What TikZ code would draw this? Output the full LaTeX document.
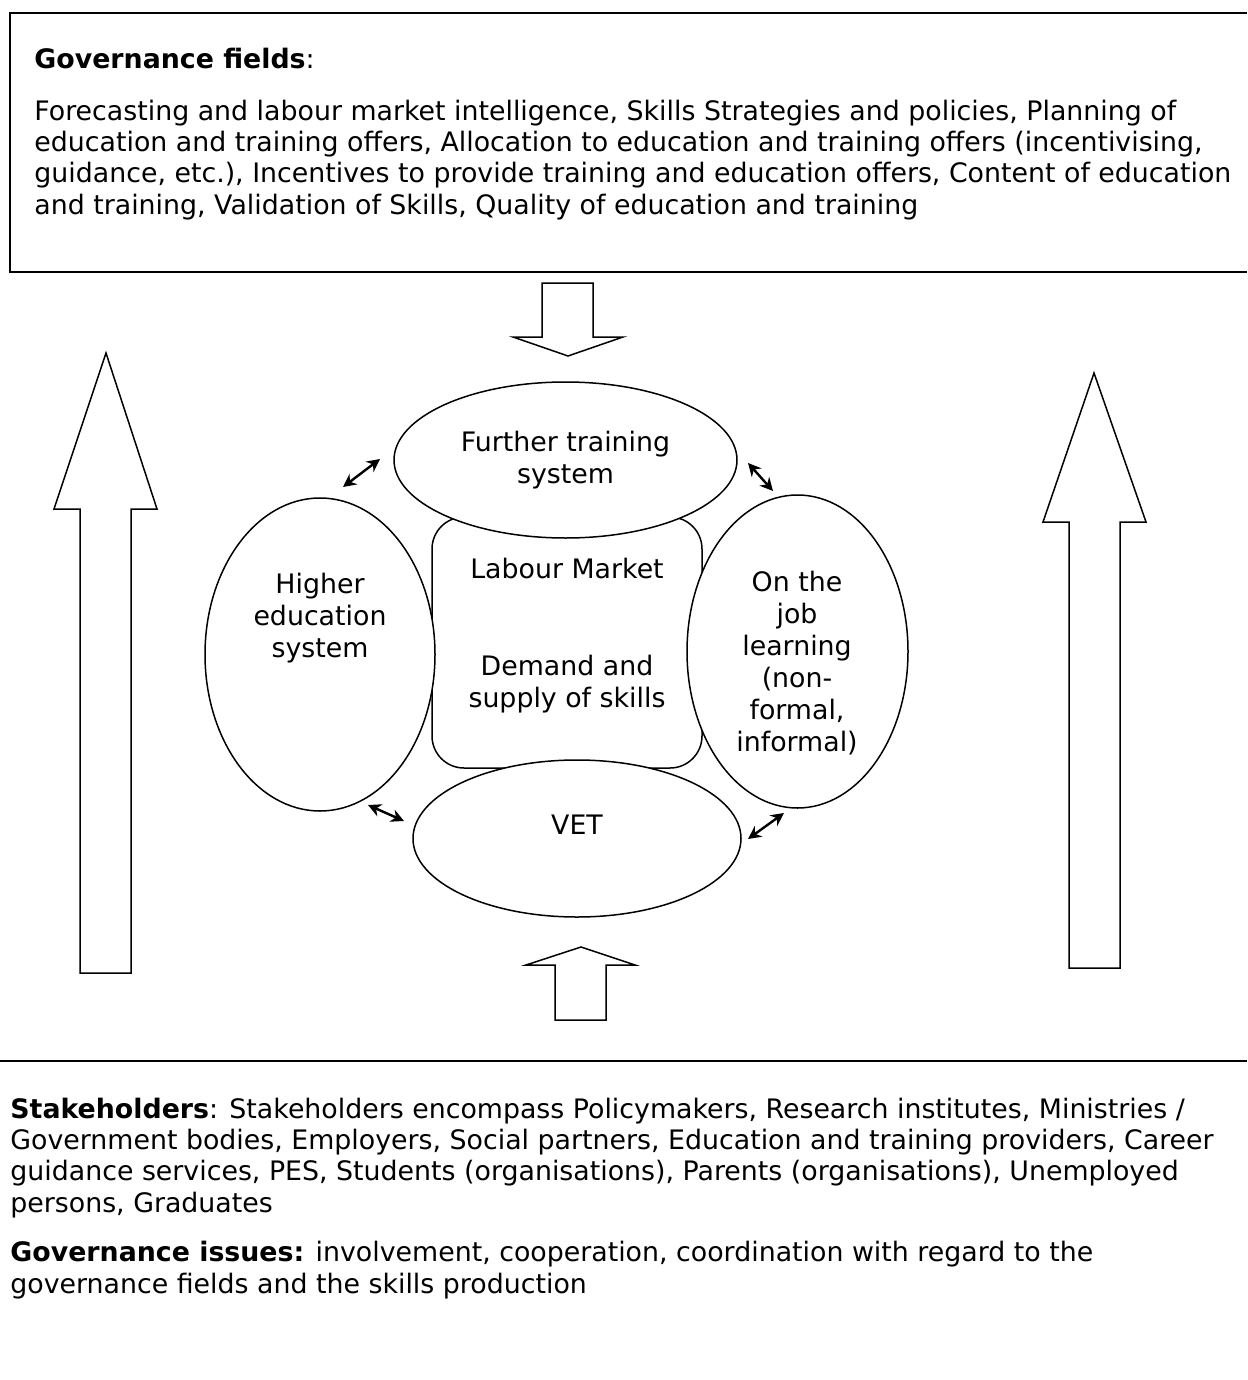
\documentclass[tikz,border=0pt]{standalone}
\usepackage{fontspec}
\setmainfont{DejaVu Sans}
\usetikzlibrary{shapes.geometric, arrows.meta}

\begin{document}
\begin{tikzpicture}[x=0.5pt, y=-0.5pt,
  ell/.style={ellipse, draw, line width=0.75pt, fill=white, inner sep=0pt,
              align=center, font=\fontsize{13.4}{16}\selectfont},
  txt/.style={align=center, inner sep=0pt, font=\fontsize{13.4}{16}\selectfont},
  para/.style={align=left, inner sep=0pt, anchor=base west,
               font=\fontsize{13.4}{15.6}\selectfont},
  blk/.style={draw, line width=0.75pt, fill=white, line join=miter},
  dbl/.style={{Stealth[length=6.5pt,width=6.5pt]}-{Stealth[length=6.5pt,width=6.5pt]},
              line width=1.2pt}
]
\useasboundingbox (0,0) rectangle (1247,1380);

%% Governance fields box (base = last line)
\draw[line width=1pt] (1247,13) -- (10,13) -- (10,272) -- (1247,272);
\node[para] (gtitle) at (34,69) {\textbf{Governance fields}:};
\node[para] (gtext)  at (34,214) {Forecasting and labour market intelligence, Skills Strategies and policies, Planning of\\
education and training offers, Allocation to education and training offers (incentivising,\\
guidance, etc.), Incentives to provide training and education offers, Content of education\\
and training, Validation of Skills, Quality of education and training};

%% Block arrows
\draw[blk] (542,283) -- (593,283) -- (593,337) -- (623,337) -- (568,356) -- (513,337) -- (542,337) -- cycle;
\draw[blk] (555,1020) -- (606,1020) -- (606,965) -- (635,965) -- (581,947) -- (526,965) -- (555,965) -- cycle;
\draw[blk] (80,973) -- (131,973) -- (131,509) -- (157,509) -- (106,353) -- (54,509) -- (80,509) -- cycle;
\draw[blk] (1069,968) -- (1120,968) -- (1120,522) -- (1146,522) -- (1094,373) -- (1043,522) -- (1069,522) -- cycle;

%% Labour market
\node[draw, rounded corners=16pt, line width=0.75pt, minimum width=135pt,
      minimum height=125.5pt] (market) at (567,642.5) {};
\node[txt] (lmtxt) at (567,569) {Labour Market};
\node[txt] (dstxt) at (567,684) {Demand and\\supply of skills};

%% Systems
\node[ell, minimum width=171.5pt, minimum height=78pt] (further) at (565.5,460) {Further training\\system};
\node[ell, minimum width=115pt, minimum height=156.5pt] (higher) at (320,654.5) {};
\node[ell, minimum width=110.5pt, minimum height=156.5pt] (onjob) at (797.5,651.5) {};
\node[ell, minimum width=164pt, minimum height=78.5pt] (vet) at (577,838.5) {};
\node[txt] (htxt) at (320,618) {Higher\\education\\system};
\node[txt] (otxt) at (797,663) {On the\\job\\learning\\(non-\\formal,\\informal)};
\node[txt] (vtxt) at (577,825) {VET};

%% Double arrows
\coordinate (hf1) at (343,487);
\coordinate (hf2) at (380,459);
\coordinate (fo1) at (748,463);
\coordinate (fo2) at (773,491);
\coordinate (hv1) at (368,805);
\coordinate (hv2) at (404,821);
\coordinate (vo1) at (748,839);
\coordinate (vo2) at (784,813);
\draw[dbl] (hf1) -- (hf2);
\draw[dbl] (fo1) -- (fo2);
\draw[dbl] (hv1) -- (hv2);
\draw[dbl] (vo1) -- (vo2);

%% Stakeholders
\draw[line width=1pt] (0,1061) -- (1247,1061);
\node[para] (stake) at (10,1212) {\textbf{Stakeholders}: Stakeholders encompass Policymakers, Research institutes, Ministries /\\
Government bodies, Employers, Social partners, Education and training providers, Career\\
guidance services, PES, Students (organisations), Parents (organisations), Unemployed\\
persons, Graduates};
\node[para] (issues) at (10,1293) {\textbf{Governance issues:} involvement, cooperation, coordination with regard to the\\
governance fields and the skills production};
\end{tikzpicture}
\end{document}
